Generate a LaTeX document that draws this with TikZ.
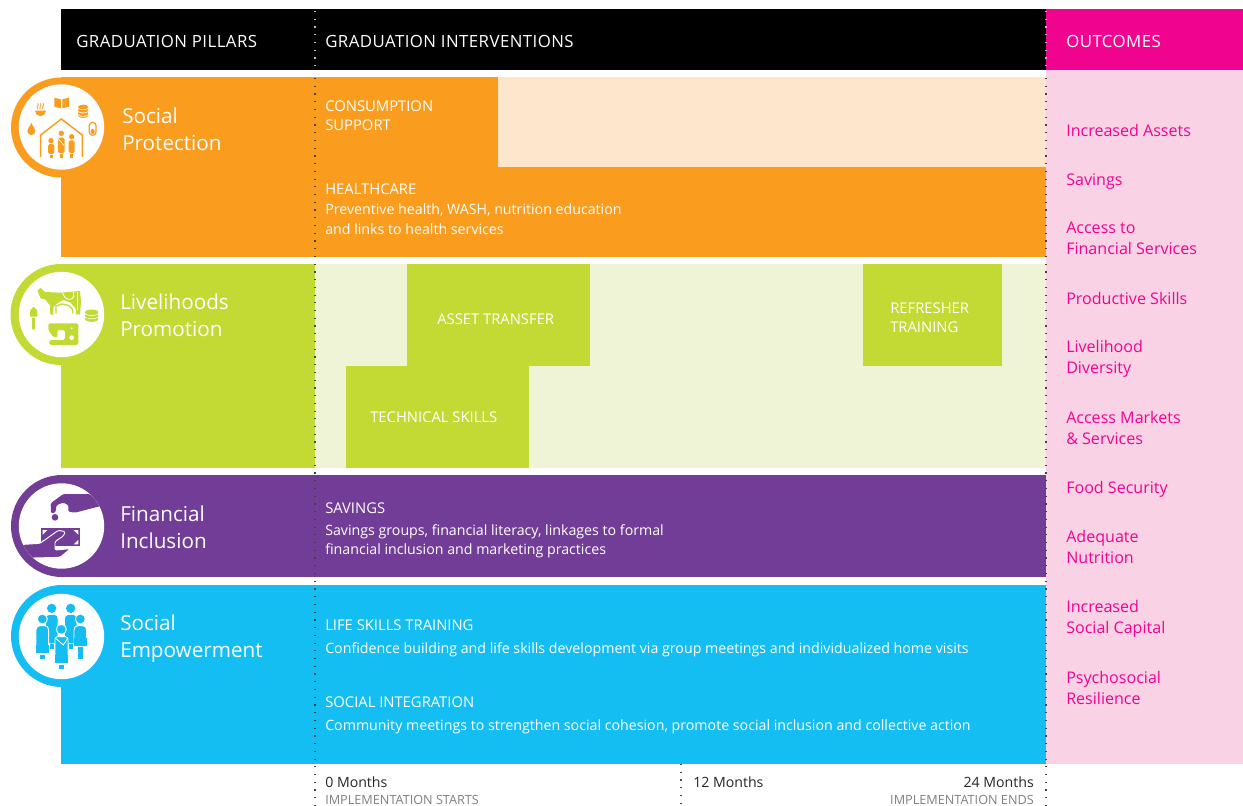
\documentclass[tikz,border=0pt]{standalone}
\usepackage{fontspec}
\setmainfont{Open Sans}
\newfontfamily\spacedfont[LetterSpace=2.7]{Open Sans}
\definecolor{cOrange}{HTML}{FA9D1F}
\definecolor{cOrangeL}{HTML}{FEE6CC}
\definecolor{cGreen}{HTML}{C3D934}
\definecolor{cGreenL}{HTML}{EFF4D7}
\definecolor{cPurple}{HTML}{723D96}
\definecolor{cBlue}{HTML}{14BDF2}
\definecolor{cPink}{HTML}{F0048F}
\definecolor{cPinkL}{HTML}{F9D3E5}
\newcommand{\capf}{\fontsize{11.1}{14}\selectfont}
\tikzset{
 x=0.75pt,y=-0.75pt,
 head/.style={anchor=west,text=white,font=\spacedfont\fontsize{12.6}{14}\selectfont,inner sep=0pt},
 pillar/.style={anchor=west,text=white,align=left,inner sep=0pt,font=\fontsize{15.5}{20.2}\selectfont},
 lab/.style={anchor=west,text=white,align=left,inner sep=0pt,font=\fontsize{10.65}{14.6}\selectfont},
 capl/.style={anchor=west,text=white,align=left,inner sep=0pt,font=\fontsize{11.1}{14.4}\selectfont},
 outc/.style={anchor=west,text=cPink,align=left,inner sep=0pt,font=\fontsize{12.05}{16.1}\selectfont},
 mon/.style={text=black!85,inner sep=0pt,font=\fontsize{10.6}{13}\selectfont},
 impl/.style={text=black!50,inner sep=0pt,font=\fontsize{9.5}{11}\selectfont},
 dots/.style={line width=1pt,dash pattern=on 0.9pt off 4.9pt},
 icon/.style={x=0.25pt,y=-0.25pt},
}
\begin{document}
\begin{tikzpicture}
\useasboundingbox (0,0) rectangle (1243,806);
\fill[white] (0,0) rectangle (1243,806);
% top bars
\fill[black] (61,9) rectangle (1046,70);
\fill[cPink] (1046,9) rectangle (1243,70);
\fill[cPinkL] (1046,70) rectangle (1243,764);
% pillars
\fill[cOrange] (61,167) rectangle (1046,257);
\fill[cOrange] (61,77) rectangle (498,167);
\fill[cOrangeL] (498,77) rectangle (1046,167);
\fill[cGreen] (61,264) rectangle (315,468);
\fill[cGreenL] (315,264) rectangle (1046,468);
\fill[cGreen] (407,264) rectangle (590,366);
\fill[cGreen] (863,264) rectangle (1002,366);
\fill[cGreen] (346,366) rectangle (529,468);
\fill[cPurple] (61,475) rectangle (1046,577);
\fill[cBlue] (61,585) rectangle (1046,764);
% circles
\fill[cOrange] (61,127.5) circle[radius=50];
\fill[white] (61.5,127) circle[radius=42.7];
\fill[cGreen] (61,314.5) circle[radius=50.5];
\fill[white] (61.5,314.5) circle[radius=42.7];
\fill[cPurple] (62,526) circle[radius=51];
\fill[white] (61.5,526) circle[radius=42.7];
\fill[cBlue] (62,636) circle[radius=51];
\fill[white] (61.5,636.5) circle[radius=42.7];
% icon 1: social protection
\begin{scope}[shift={(0,70)},icon,cOrange]
 \fill (163,83)--(183,88)--(183,115)--(163,110)--cycle;
 \fill (187,88)--(207,83)--(207,110)--(187,115)--cycle;
 \fill (105,122) -- (138,122) arc[start angle=0,end angle=180,radius=16.5] -- cycle;
 \foreach \sx in {113,121,129}{
  \draw[line width=0.6pt] (\sx,118) .. controls (\sx-6,110) and (\sx+6,108) .. (\sx,100);}
 \foreach \sy in {131,121,111}{
  \fill (249.5,\sy+5) ellipse[x radius=15.5,y radius=8];
  \fill[white] (249.5,\sy) ellipse[x radius=17.5,y radius=9];
  \fill (249.5,\sy) ellipse[x radius=15.5,y radius=7];}
 \fill (94,158) .. controls (90,170) and (82,175) .. (82,183) arc[start angle=180,end angle=0,radius=12] .. controls (106,175) and (98,170) .. (94,158) -- cycle;
 \draw[line width=0.9pt,rounded corners=2.4pt] (268,157) rectangle (288,196);
 \fill[rounded corners=1.5pt] (272,177) rectangle (284,192);
 \draw[line width=1.1pt] (122,261) -- (122,195) -- (184,147) -- (247,195) -- (247,261);
 \fill (153,212) circle[radius=8];
 \fill (184,190) circle[radius=8];
 \fill (215,200) circle[radius=8];
 \fill[rounded corners=1.2pt] (144,222) rectangle (163,252);
 \fill (149,254) rectangle (158,263);
 \fill[rounded corners=1.2pt] (174,203) rectangle (194,249);
 \fill (180,252) rectangle (189,263);
 \fill[rounded corners=1.2pt] (206,211) rectangle (224,249);
 \fill (210,252) rectangle (219,263);
 \draw[white,line width=0.6pt] (176,208) -- (192,226);
\end{scope}
% icon 2: livelihoods
\begin{scope}[shift={(0,260)},icon,cGreen]
 \fill (112,92) -- (122,84) -- (135,96) -- (180,98) -- (240,93) -- (243,125) -- (240,163) -- (228,163) -- (227,146) -- (212,128) -- (190,120) -- (172,130) -- (160,142) -- (160,164) -- (151,164) -- (150,136) -- (135,118) -- (122,115) -- cycle;
 \draw[white,line width=0.6pt] (187,95) .. controls (190,110) and (200,120) .. (212,118) .. controls (222,115) and (222,105) .. (220,95);
 \draw[white,line width=0.6pt] (232,96) -- (232,150);
 \draw[line width=1pt] (168,160) -- (168,138) -- (186,132) -- (205,136) -- (218,148) -- (218,160);
 \fill (101,140) -- (112,152) -- (112,170) -- (90,170) -- (90,152) -- cycle;
 \fill[rounded corners=0.8pt] (96,172) rectangle (105,209);
 \foreach \sy in {177,167,157}{
  \fill[white] (275,\sy) ellipse[x radius=22.5,y radius=10.5];
  \fill (275,\sy) ellipse[x radius=20,y radius=8.5];}
 \fill[rounded corners=1.2pt] (145,190) -- (235,190) -- (235,255) -- (148,255) -- (148,240) -- (195,240) -- (195,210) -- (172,210) -- (172,232) -- (160,232) -- (145,210) -- cycle;
 \fill[white] (215,233) circle[radius=7];
 \fill[white] (215,205) circle[radius=3];
\end{scope}
% icon 3: financial
\begin{scope}
 \clip (61.5,526) circle[radius=42.7];
 \begin{scope}[shift={(0,470)},icon,cPurple]
 \fill[rounded corners=1pt] (190,72) -- (268,72) -- (310,100) -- (310,106) -- (225,128) -- (205,125) -- (205,105) -- (190,98) -- (170,105) -- (166,128) -- (153,130) -- (152,100) -- cycle;
 \fill (165,142) circle[radius=10];
 \fill (123,175) rectangle (240,228);
 \fill[white] (128,180) -- (142,180) -- (128,194) -- cycle;
 \fill[white] (235,180) -- (221,180) -- (235,194) -- cycle;
 \fill[white] (128,223) -- (142,223) -- (128,209) -- cycle;
 \fill[white] (235,223) -- (221,223) -- (235,209) -- cycle;
 \filldraw[draw=white,line width=0.7pt,line join=round,rounded corners=1pt] (40,225) -- (120,220) -- (175,181) -- (196,185) -- (190,198) -- (165,215) -- (165,240) -- (212,236) -- (180,262) -- (100,264) -- (40,264) -- cycle;
 \end{scope}
\end{scope}
% icon 4: empowerment
\begin{scope}[shift={(0,580)},icon,cBlue]
 \fill (155,85) circle[radius=14];
 \fill (212,85) circle[radius=14];
 \fill[rounded corners=2.5pt] (138,105) rectangle (173,190);
 \fill[rounded corners=2.5pt] (195,105) rectangle (230,190);
 \fill (150,192) rectangle (162,206);
 \fill (206,192) rectangle (220,206);
 \filldraw[draw=white,line width=0.7pt] (127,117) circle[radius=15];
 \filldraw[draw=white,line width=0.7pt] (241,117) circle[radius=15];
 \filldraw[draw=white,line width=0.7pt,rounded corners=3pt] (108,137) -- (146,137) -- (146,218) -- (108,218) -- cycle;
 \fill (108,195) rectangle (146,218);
 \filldraw[draw=white,line width=0.7pt,rounded corners=3pt] (222,137) -- (260,137) -- (260,198) -- (222,198) -- cycle;
 \fill (222,175) rectangle (260,198);
 \fill (120,224) rectangle (134,238);
 \fill (235,202) rectangle (250,236);
 \filldraw[draw=white,line width=0.7pt] (184,148) circle[radius=15];
 \filldraw[draw=white,line width=0.7pt,rounded corners=2pt] (165,170) -- (204,170) -- (204,248) -- (165,248) -- cycle;
 \fill (166,225) rectangle (203,248);
 \draw[white,line width=0.6pt] (167,175) -- (190,195) -- (203,175);
 \fill (177,254) rectangle (192,268);
\end{scope}
% headers
\node[head] (h1) at (76,41) {GRADUATION PILLARS};
\node[head] (h2) at (325,41) {GRADUATION INTERVENTIONS};
\node[head] (h3) at (1066,41) {OUTCOMES};
% pillars text
\node[pillar] (p1) at (122,129) {Social\\Protection};
\node[pillar] (p2) at (120,315) {Livelihoods\\Promotion};
\node[pillar] (p3) at (120,527) {Financial\\Inclusion};
\node[pillar] (p4) at (120,638.5) {Social\\Empowerment};
% interventions
\node[capl] (i1) at (325,116) {CONSUMPTION\\SUPPORT};
\node[lab] (i2) at (325,209) {{\capf HEALTHCARE}\\[1pt]Preventive health, WASH, nutrition education\\and links to health services};
\node[capl] (i3) at (437,319.5) {ASSET TRANSFER};
\node[capl] (i4) at (890,317.5) {REFRESHER\\TRAINING};
\node[capl] (i5) at (370,417.5) {TECHNICAL SKILLS};
\node[lab] (i6) at (325,530.5) {{\capf SAVINGS}\\[2pt]Savings groups, financial literacy, linkages to formal\\financial inclusion and marketing practices};
\node[lab] (i7) at (325,638.5) {{\capf LIFE SKILLS TRAINING}\\[2.6pt]Confidence building and life skills development via group meetings and individualized home visits};
\node[lab] (i8) at (325,715.5) {{\capf SOCIAL INTEGRATION}\\[2.6pt]Community meetings to strengthen social cohesion, promote social inclusion and collective action};
% outcomes
\node[outc] (o1) at (1066,130) {Increased Assets};
\node[outc] (o2) at (1066,182) {Savings};
\node[outc] (o3) at (1066,238.5) {Access to\\Financial Services};
\node[outc] (o4) at (1066,298) {Productive Skills};
\node[outc] (o5) at (1066,359) {Livelihood\\Diversity};
\node[outc] (o6) at (1066,428) {Access Markets\\\& Services};
\node[outc] (o7) at (1066,489) {Food Security};
\node[outc] (o8) at (1066,547) {Adequate\\Nutrition};
\node[outc] (o9) at (1066,619) {Increased\\Social Capital};
\node[outc] (o10) at (1066,688) {Psychosocial\\Resilience};
% timeline
\draw[dots,white!75!black] (315,11) -- (315,70);
\draw[dots,black!75] (315,78) -- (315,806);
\draw[dots,black!70] (681,764) -- (681,806);
\draw[dots,white!75!black] (1046,11) -- (1046,70);
\draw[dots,black!75] (1046,78) -- (1046,806);
\node[mon,anchor=west] (m0) at (325,782) {0 Months};
\node[impl,anchor=west] (s0) at (325,800) {IMPLEMENTATION STARTS};
\node[mon,anchor=west] (m1) at (693,782) {12 Months};
\node[mon,anchor=east] (m2) at (1034,782) {24 Months};
\node[impl,anchor=east] (s2) at (1034,800) {IMPLEMENTATION ENDS};
\end{tikzpicture}
\end{document}
